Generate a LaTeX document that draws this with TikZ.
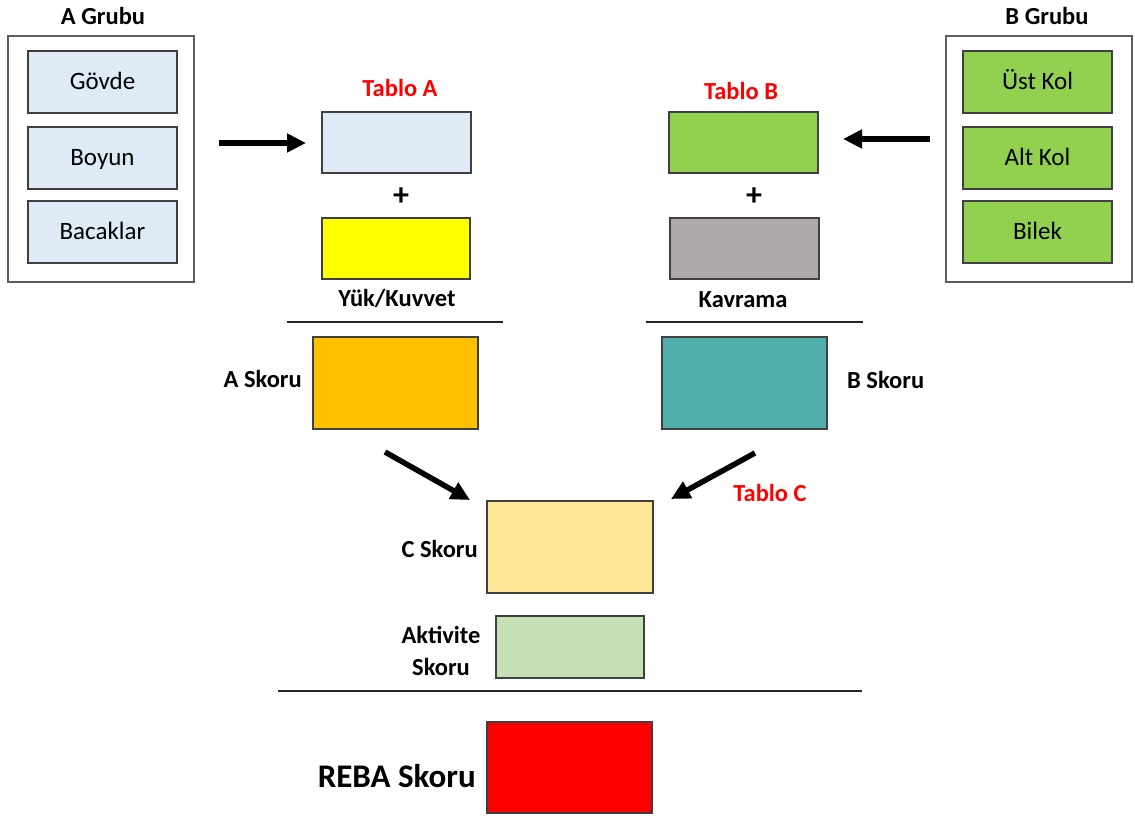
\documentclass[tikz,border=0pt]{standalone}
\usepackage{fontspec}
\setmainfont{Carlito}
\usetikzlibrary{arrows.meta}
\definecolor{lblue}{HTML}{DEEBF7}
\definecolor{lgreen}{HTML}{92D050}
\definecolor{ygray}{HTML}{AEAAAA}
\definecolor{orng}{HTML}{FFC000}
\definecolor{tealbox}{HTML}{51AFAB}
\definecolor{cream}{HTML}{FFE699}
\definecolor{sage}{HTML}{C5E0B4}
\definecolor{edgecol}{HTML}{404040}
\definecolor{tablered}{HTML}{FF0000}
\definecolor{pureyellow}{HTML}{FFFF00}
\begin{document}
\begin{tikzpicture}[x=1pt,y=-1pt,
  box/.style={draw=edgecol, line width=1.4pt, inner sep=0pt,
    font=\fontsize{25}{30}\selectfont, text height=16pt, text depth=0pt},
  groupbox/.style={draw=edgecol!85, line width=1.2pt, inner sep=0pt, fill=white},
  lbl/.style={inner sep=0pt, font=\fontsize{24.5}{29}\selectfont\bfseries},
  redlbl/.style={lbl, text=tablered},
  plussign/.style={inner sep=0pt, font=\fontsize{32}{36}\selectfont\bfseries},
  bigarrow/.style={line width=5.5pt, -{Triangle[length=19pt,width=18pt]}},
  rulerline/.style={line width=1.4pt, draw=black!85}]
\useasboundingbox (0,0) rectangle (1135,818);
\fill[white] (0,0) rectangle (1135,818);

% ---- A Grubu
\node[lbl, anchor=base] (agt) at (103,25) {A Grubu};
\node[groupbox, minimum width=186pt, minimum height=246pt] (ag) at (101,159) {};
\node[box, fill=lblue, minimum width=149pt, minimum height=62pt] (govde) at (102.5,82) {Gövde};
\node[box, fill=lblue, minimum width=149pt, minimum height=62pt] (boyun) at (102.5,158) {Boyun};
\node[box, fill=lblue, minimum width=149pt, minimum height=62pt] (bacak) at (102.5,232) {Bacaklar};

% ---- B Grubu
\node[lbl, anchor=base] (bgt) at (1047,25) {B Grubu};
\node[groupbox, minimum width=186pt, minimum height=246pt] (bg) at (1039,159) {};
\node[box, fill=lgreen, minimum width=149pt, minimum height=62pt] (ustkol) at (1037.5,82) {Üst Kol};
\node[box, fill=lgreen, minimum width=149pt, minimum height=62pt] (altkol) at (1037.5,158) {Alt Kol};
\node[box, fill=lgreen, minimum width=149pt, minimum height=62pt] (bilek) at (1037.5,232) {Bilek};

% ---- arrows from groups
\coordinate (a1s) at (219,143);
\coordinate (a1e) at (306,143);
\draw[bigarrow] (a1s) -- (a1e);
\coordinate (b1s) at (930,139);
\coordinate (b1e) at (843,139);
\draw[bigarrow] (b1s) -- (b1e);

% ---- Tablo A column
\node[redlbl, anchor=base] (tabloA) at (400,97) {Tablo A};
\node[box, fill=lblue, minimum width=149pt, minimum height=61pt] (ta) at (396.5,142.5) {};
\node[plussign] (plusA) at (401,197) {+};
\node[box, fill=pureyellow, minimum width=148pt, minimum height=61pt] (yuk) at (396,248.5) {};
\node[lbl, anchor=base] (yukl) at (397,307) {Yük/Kuvvet};
\coordinate (rA1) at (287,322);
\coordinate (rA2) at (503,322);
\draw[rulerline] (rA1) -- (rA2);
\node[box, fill=orng, minimum width=165pt, minimum height=92pt] (askor) at (395.5,383) {};
\node[lbl, anchor=base east] (askorl) at (302,387) {A Skoru};

% ---- Tablo B column
\node[redlbl, anchor=base] (tabloB) at (741,100) {Tablo B};
\node[box, fill=lgreen, minimum width=149pt, minimum height=61pt] (tb) at (743.5,142.5) {};
\node[plussign] (plusB) at (754,197) {+};
\node[box, fill=ygray, minimum width=149pt, minimum height=61pt] (kav) at (744.5,248.5) {};
\node[lbl, anchor=base] (kavl) at (743,308) {Kavrama};
\coordinate (rB1) at (646,322);
\coordinate (rB2) at (863,322);
\draw[rulerline] (rB1) -- (rB2);
\node[box, fill=tealbox, minimum width=165pt, minimum height=92pt] (bskor) at (744.5,383) {};
\node[lbl, anchor=base west] (bskorl) at (847,388) {B Skoru};

% ---- towards C
\coordinate (c1s) at (385,452);
\coordinate (c1e) at (470,500);
\draw[bigarrow] (c1s) -- (c1e);
\coordinate (c2s) at (755,453);
\coordinate (c2e) at (671,499);
\draw[bigarrow] (c2s) -- (c2e);
\node[redlbl, anchor=base] (tabloC) at (770,501) {Tablo C};

\node[box, fill=cream, minimum width=166pt, minimum height=92pt] (cskor) at (570,547) {};
\node[lbl, anchor=base east] (cskorl) at (478,557) {C Skoru};

\node[box, fill=sage, minimum width=148pt, minimum height=62pt] (akt) at (570,647) {};
\node[lbl, align=center, font=\fontsize{24.5}{32}\selectfont\bfseries] (aktl) at (441,651) {Aktivite\\Skoru};

\coordinate (rC1) at (278,691);
\coordinate (rC2) at (862,691);
\draw[rulerline] (rC1) -- (rC2);

\node[box, fill=red, minimum width=165pt, minimum height=91pt] (reba) at (569.5,767.5) {};
\node[inner sep=0pt, font=\fontsize{33}{38}\selectfont\bfseries, anchor=base east] (rebal) at (476,787) {REBA Skoru};
\end{tikzpicture}
\end{document}
